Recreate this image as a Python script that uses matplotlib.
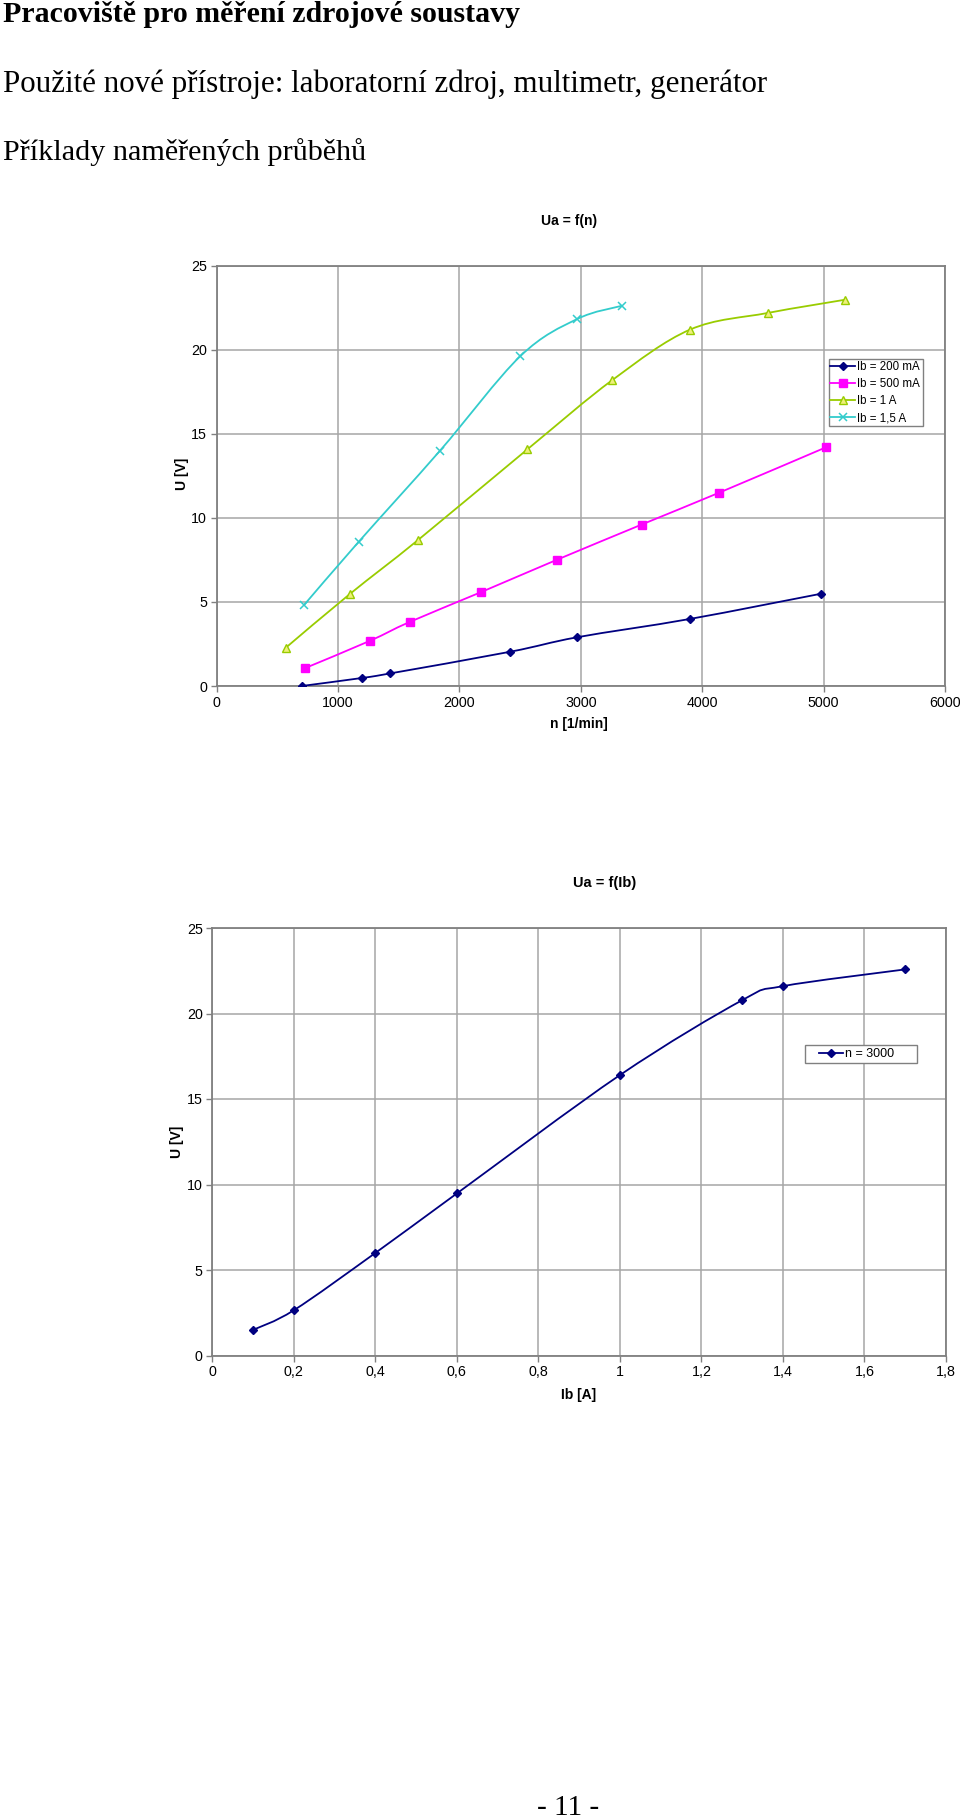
import matplotlib
matplotlib.use("Agg")
import matplotlib.pyplot as plt
from matplotlib.path import Path
from matplotlib.patches import PathPatch, Rectangle
from matplotlib.lines import Line2D

# ---------------- data ----------------
page_title = "Pracoviště pro měření zdrojové soustavy"
page_line2 = "Použité nové přístroje: laboratorní zdroj, multimetr, generátor"
page_line3 = "Příklady naměřených průběhů"
page_number = "- 11 -"

# Chart 1: Ua = f(n)
c1_title = "Ua = f(n)"
c1_xlabel = "n [1/min]"
c1_ylabel = "U [V]"
n_200mA = [700, 1200, 1430, 2420, 2970, 3900, 4980]
u_200mA = [0.0, 0.48, 0.75, 2.04, 2.9, 3.99, 5.49]
n_500mA = [730, 1260, 1590, 2180, 2800, 3500, 4140, 5020]
u_500mA = [1.07, 2.68, 3.81, 5.59, 7.5, 9.6, 11.5, 14.2]
n_1A = [570, 1100, 1660, 2560, 3260, 3900, 4540, 5180]
u_1A = [2.28, 5.49, 8.69, 14.08, 18.2, 21.2, 22.19, 22.98]
n_15A = [720, 1170, 1840, 2500, 2970, 3340]
u_15A = [4.82, 8.58, 14.0, 19.61, 21.83, 22.62]
c1_labels = ["Ib = 200 mA", "Ib = 500 mA", "Ib = 1 A", "Ib = 1,5 A"]
c1_xticks = [0, 1000, 2000, 3000, 4000, 5000, 6000]
c1_yticks = [0, 5, 10, 15, 20, 25]

# Chart 2: Ua = f(Ib)
c2_title = "Ua = f(Ib)"
c2_xlabel = "Ib [A]"
c2_ylabel = "U [V]"
ib = [0.1, 0.2, 0.4, 0.6, 1.0, 1.3, 1.4, 1.7]
u_ib = [1.5, 2.65, 6.0, 9.48, 16.4, 20.78, 21.6, 22.58]
c2_label = "n = 3000"
c2_xticks = [0, 0.2, 0.4, 0.6, 0.8, 1.0, 1.2, 1.4, 1.6, 1.8]
c2_xticklabels = ["0", "0,2", "0,4", "0,6", "0,8", "1", "1,2", "1,4", "1,6", "1,8"]
c2_yticks = [0, 5, 10, 15, 20, 25]

# ---------------- style ----------------
W, H = 960, 1820
DPI = 100
SANS = ["Liberation Sans", "DejaVu Sans"]
SERIF = ["Liberation Serif", "DejaVu Serif"]
GRID = "#a6a6a6"
SPINE = "#808080"

plt.rcParams["font.family"] = SANS

fig = plt.figure(figsize=(W / DPI, H / DPI), dpi=DPI)
fig.patch.set_facecolor("white")


def fx(px):
    return px / W


def fy(py):
    return 1 - py / H


def smooth_path(xs, ys):
    pts = list(zip(xs, ys))
    n = len(pts)
    verts = [pts[0]]
    codes = [Path.MOVETO]
    for i in range(n - 1):
        p0 = pts[i - 1] if i > 0 else pts[i]
        p1 = pts[i]
        p2 = pts[i + 1]
        p3 = pts[i + 2] if i + 2 < n else pts[i + 1]
        c1 = (p1[0] + (p2[0] - p0[0]) / 6, p1[1] + (p2[1] - p0[1]) / 6)
        c2 = (p2[0] - (p3[0] - p1[0]) / 6, p2[1] - (p3[1] - p1[1]) / 6)
        verts += [c1, c2, p2]
        codes += [Path.CURVE4] * 3
    return Path(verts, codes)


def series(ax, xs, ys, color, marker, ms, mfc, mec, label, mew=1.0):
    ax.add_patch(PathPatch(smooth_path(xs, ys), facecolor="none",
                           edgecolor=color, lw=1.3, zorder=3))
    ax.plot(xs, ys, linestyle="none", marker=marker, ms=ms, mfc=mfc,
            mec=mec, mew=mew, zorder=4)
    return Line2D([], [], color=color, lw=1.3, marker=marker, ms=ms,
                  mfc=mfc, mec=mec, mew=mew, label=label)


def style_axes(ax):
    ax.grid(True, color=GRID, lw=1.1)
    ax.set_axisbelow(True)
    for s in ax.spines.values():
        s.set_color(SPINE)
        s.set_linewidth(1.3)
    ax.tick_params(direction="out", length=4, width=1, color=SPINE,
                   labelsize=10.3, labelcolor="black", pad=3)


def legend_box(x0, y0, x1, y1):
    fig.add_artist(Rectangle((fx(x0), fy(y1)), fx(x1 - x0), (y1 - y0) / H,
                             transform=fig.transFigure, facecolor="white",
                             edgecolor=SPINE, lw=1.0, zorder=5))


# ---------------- page texts ----------------
fig.text(fx(3), fy(15), page_title, family=SERIF, weight="bold",
         fontsize=21.5, va="center", ha="left")
fig.text(fx(3), fy(84), page_line2, family=SERIF, fontsize=22.3,
         va="center", ha="left")
fig.text(fx(3), fy(152), page_line3, family=SERIF, fontsize=21.7,
         va="center", ha="left")
fig.text(fx(568), fy(1808), page_number, family=SERIF, fontsize=21,
         va="center", ha="center")

# ---------------- chart 1 ----------------
ax1 = fig.add_axes([fx(216.7), fy(686), fx(945 - 216.7), (686 - 265.7) / H])
style_axes(ax1)
h1 = series(ax1, n_200mA, u_200mA, "#000080", "D", 4.5, "#000080", "#000080", c1_labels[0])
h2 = series(ax1, n_500mA, u_500mA, "#ff00ff", "s", 5.5, "#ff00ff", "#ff00ff", c1_labels[1])
h3 = series(ax1, n_1A, u_1A, "#99cc00", "^", 6, "#eef07a", "#99cc00", c1_labels[2])
h4 = series(ax1, n_15A, u_15A, "#33cccc", "x", 5.5, "#33cccc", "#33cccc", c1_labels[3], mew=1.1)
ax1.set_xlim(c1_xticks[0], c1_xticks[-1])
ax1.set_ylim(c1_yticks[0], c1_yticks[-1])
ax1.set_xticks(c1_xticks)
ax1.set_yticks(c1_yticks)
ax1.set_xticklabels([str(v) for v in c1_xticks])
ax1.set_yticklabels([str(v) for v in c1_yticks])
fig.text(fx(569), fy(220.5), c1_title, weight="bold", fontsize=10,
         ha="center", va="center")
fig.text(fx(579), fy(724), c1_xlabel, weight="bold", fontsize=10,
         ha="center", va="center")
fig.text(fx(182), fy(474), c1_ylabel, weight="bold", fontsize=10,
         ha="center", va="center", rotation=90)
legend_box(828.5, 359.3, 923, 425.7)
leg1 = fig.legend(handles=[h1, h2, h3, h4], loc="upper left",
                  bbox_to_anchor=(fx(830), fy(361.5)), fontsize=8.3,
                  frameon=False, borderpad=0, labelspacing=0.42,
                  handlelength=2.2, handletextpad=0.15, borderaxespad=0)
leg1.set_zorder(6)

# ---------------- chart 2 ----------------
ax2 = fig.add_axes([fx(212.4), fy(1355.5), fx(946 - 212.4), (1355.5 - 928) / H])
style_axes(ax2)
hb = series(ax2, ib, u_ib, "#000080", "D", 4.5, "#000080", "#000080", c2_label)
ax2.set_xlim(c2_xticks[0], c2_xticks[-1])
ax2.set_ylim(c2_yticks[0], c2_yticks[-1])
ax2.set_xticks(c2_xticks)
ax2.set_yticks(c2_yticks)
ax2.set_xticklabels(c2_xticklabels)
ax2.set_yticklabels([str(v) for v in c2_yticks])
fig.text(fx(605), fy(883), c2_title, weight="bold", fontsize=10.5,
         ha="center", va="center")
fig.text(fx(579), fy(1395), c2_xlabel, weight="bold", fontsize=10,
         ha="center", va="center")
fig.text(fx(177), fy(1142), c2_ylabel, weight="bold", fontsize=10,
         ha="center", va="center", rotation=90)
legend_box(805, 1044.6, 917, 1063.2)
leg2 = fig.legend(handles=[hb], loc="center left",
                  bbox_to_anchor=(fx(819), fy(1054)), fontsize=9,
                  frameon=False, borderpad=0, handlelength=1.9,
                  handletextpad=0.15, borderaxespad=0)
leg2.set_zorder(6)

fig.savefig("out.png", dpi=DPI, facecolor="white")
